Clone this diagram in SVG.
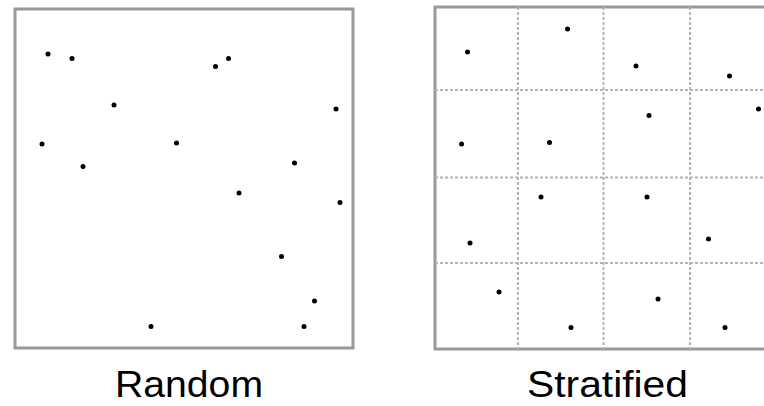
<svg xmlns="http://www.w3.org/2000/svg" width="764" height="406" viewBox="0 0 764 406">
<style>
.box{fill:#fff;stroke:#999;stroke-width:3}
.grid{stroke:#b4b4b4;stroke-width:2;stroke-dasharray:3 2;fill:none}
.dot{fill:#000}
.lbl{font-family:"Liberation Sans",Arial,sans-serif;font-size:36px;fill:#000;text-anchor:middle}
</style>
<rect width="764" height="406" fill="#fff"/>
<g id="random">
<rect class="box" x="15" y="9" width="338" height="339"/>
<g class="dot">
<circle cx="48" cy="54" r="2.5"/><circle cx="72" cy="58.5" r="2.5"/><circle cx="114" cy="105" r="2.5"/>
<circle cx="42" cy="144" r="2.5"/><circle cx="83" cy="166.5" r="2.5"/><circle cx="176.5" cy="143" r="2.5"/>
<circle cx="215.5" cy="66.5" r="2.5"/><circle cx="228.5" cy="58.5" r="2.5"/><circle cx="336" cy="109" r="2.5"/>
<circle cx="294.5" cy="163" r="2.5"/><circle cx="239" cy="193" r="2.5"/><circle cx="340" cy="202.5" r="2.5"/>
<circle cx="281.5" cy="256.5" r="2.5"/><circle cx="314.5" cy="301" r="2.5"/><circle cx="151" cy="326.5" r="2.5"/>
<circle cx="304" cy="326.5" r="2.5"/>
</g>
<text class="lbl" x="189" y="397" textLength="148" lengthAdjust="spacingAndGlyphs">Random</text>
</g>
<g id="stratified">
<rect class="box" x="435" y="7" width="345" height="342"/>
<g class="grid">
<line x1="518" y1="7" x2="518" y2="349"/>
<line x1="603.5" y1="7" x2="603.5" y2="349"/>
<line x1="690" y1="7" x2="690" y2="349"/>
<line x1="435" y1="90" x2="764" y2="90"/>
<line x1="435" y1="177.5" x2="764" y2="177.5"/>
<line x1="435" y1="263" x2="764" y2="263"/>
</g>
<g class="dot">
<circle cx="467.5" cy="52" r="2.5"/><circle cx="567.5" cy="29" r="2.5"/><circle cx="636" cy="66" r="2.5"/>
<circle cx="729.5" cy="76" r="2.5"/><circle cx="461.5" cy="144" r="2.5"/><circle cx="549.5" cy="142.5" r="2.5"/>
<circle cx="649" cy="115.5" r="2.5"/><circle cx="758.5" cy="109" r="2.5"/><circle cx="541" cy="197" r="2.5"/>
<circle cx="647" cy="197" r="2.5"/><circle cx="470" cy="243" r="2.5"/><circle cx="708.5" cy="239" r="2.5"/>
<circle cx="499" cy="292" r="2.5"/><circle cx="571" cy="327.5" r="2.5"/><circle cx="658" cy="299" r="2.5"/>
<circle cx="725" cy="327.5" r="2.5"/>
</g>
<text class="lbl" x="607.5" y="397" textLength="161" lengthAdjust="spacingAndGlyphs">Stratified</text>
</g>
</svg>
